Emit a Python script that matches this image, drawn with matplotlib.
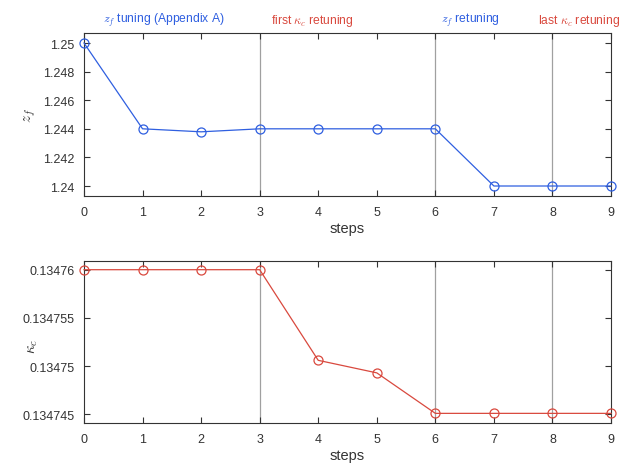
import matplotlib
matplotlib.use("Agg")
import matplotlib.pyplot as plt

plt.rcParams['font.family'] = ['Liberation Sans', 'DejaVu Sans']
plt.rcParams['mathtext.fontset'] = 'cm'

steps = [0, 1, 2, 3, 4, 5, 6, 7, 8, 9]
z_f = [1.25, 1.244, 1.24379, 1.244, 1.244, 1.244, 1.244, 1.24, 1.24, 1.24]
kappa_c = [0.13476, 0.13476, 0.13476, 0.13476, 0.1347506, 0.1347493,
           0.1347451, 0.1347451, 0.1347451, 0.1347451]
event_steps = [3, 6, 8]
z_ticks = [1.24, 1.242, 1.244, 1.246, 1.248, 1.25]
z_ticklabels = ['1.24', '1.242', '1.244', '1.246', '1.248', '1.25']
k_ticks = [0.134745, 0.13475, 0.134755, 0.13476]
k_ticklabels = ['0.134745', '0.13475', '0.134755', '0.13476']
annotations = [
    (1.36, r'$z_f$ tuning (Appendix A)', 'blue'),
    (3.9, r'first $\kappa_c$ retuning', 'red'),
    (6.6, r'$z_f$ retuning', 'blue'),
    (8.45, r'last $\kappa_c$ retuning', 'red'),
]

BLUE = '#2f5fe0'
RED = '#d9493e'
AX_COLOR = '#333333'
colors = {'blue': BLUE, 'red': RED}

fig = plt.figure(figsize=(6.32, 4.64), dpi=100)
fig.patch.set_facecolor('white')
ax1 = fig.add_axes([0.1329, 0.5754, 0.8339, 0.3513])
ax2 = fig.add_axes([0.1329, 0.0862, 0.8339, 0.3491])


def style(ax):
    for s in ax.spines.values():
        s.set_color(AX_COLOR)
        s.set_linewidth(0.8)
    ax.tick_params(direction='in', top=True, right=True, length=4,
                   width=0.8, color=AX_COLOR, labelcolor=AX_COLOR,
                   labelsize=9, pad=7)
    ax.set_xlim(0, 9)
    ax.set_xticks(steps)
    for s in event_steps:
        ax.axvline(s, color='#a0a0a0', lw=0.9, zorder=1)
    ax.set_xlabel('steps', fontsize=10.5, color=AX_COLOR, labelpad=2)


ax1.plot(steps, z_f, '-o', color=BLUE, lw=0.9, ms=6.5, mfc='none',
         mew=0.9, clip_on=False, zorder=3)
ax1.set_ylim(1.2393, 1.2507)
ax1.set_yticks(z_ticks)
ax1.set_yticklabels(z_ticklabels)
ax1.set_ylabel(r'$z_f$', fontsize=11, color=AX_COLOR)
style(ax1)
ax1.yaxis.set_label_coords(-0.087, 0.5)

ax2.plot(steps, kappa_c, '-o', color=RED, lw=0.9, ms=6.5, mfc='none',
         mew=0.9, clip_on=False, zorder=3)
ax2.set_ylim(0.1347441, 0.1347609)
ax2.set_yticks(k_ticks)
ax2.set_yticklabels(k_ticklabels)
ax2.set_ylabel(r'$\kappa_c$', fontsize=11, color=AX_COLOR)
style(ax2)
ax2.yaxis.set_label_coords(-0.083, 0.48)

for x, txt, c in annotations:
    ax1.text(x, 1.03, txt, transform=ax1.get_xaxis_transform(),
             ha='center', va='bottom', fontsize=8.7, color=colors[c])

fig.savefig('out.png', dpi=100)
